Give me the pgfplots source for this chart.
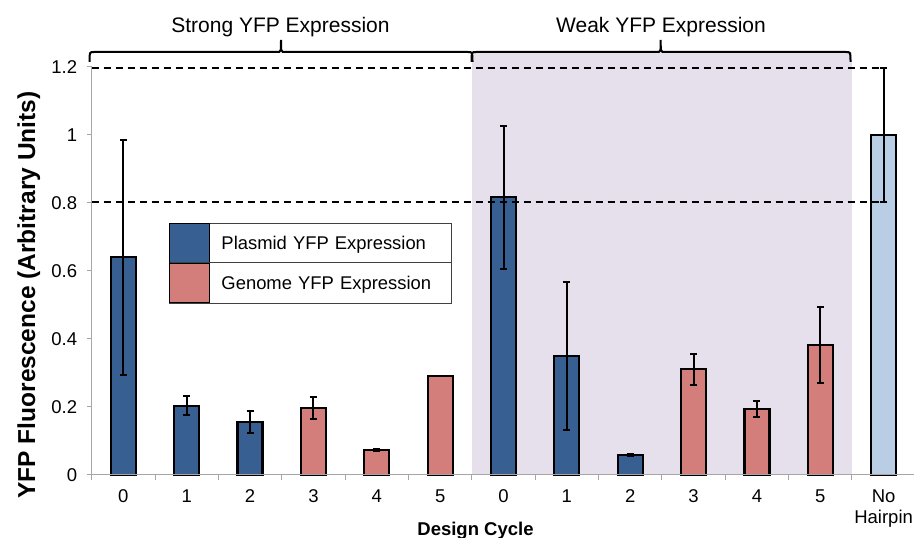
\documentclass[border=0pt]{standalone}
\usepackage{fontspec}
\setmainfont{Liberation Sans}
\usepackage{pgfplots}
\pgfplotsset{compat=1.18}
\definecolor{plasmid}{RGB}{55,95,145}
\definecolor{genome}{RGB}{211,126,123}
\definecolor{nohair}{RGB}{185,205,229}
\definecolor{shade}{RGB}{229,224,236}
\definecolor{axgray}{RGB}{166,166,166}
\begin{document}
\begin{tikzpicture}
\useasboundingbox (0,0) rectangle (914pt,538pt);
\begin{axis}[
  at={(91.7pt,63pt)}, anchor=south west,
  scale only axis, width=823.6pt, height=408pt,
  xmin=-0.5, xmax=12.5, ymin=0, ymax=1.2,
  clip=false, axis on top,
  axis lines*=left,
  axis line style={axgray, line width=1pt},
  tick style={axgray, line width=1pt},
  tick align=outside,
  major tick length=5pt,
  ytick={0,0.2,...,1.2},
  yticklabel style={xshift=-6pt},
  xtick={-0.5,0.5,...,12.5},
  xticklabels={},
  extra x ticks={0,1,...,12},
  extra x tick labels={0,1,2,3,4,5,0,1,2,3,4,5,{No\\Hairpin}},
  extra x tick style={major tick length=0pt, xticklabel style={align=center, yshift=-11pt}},
  /pgf/number format/assume math mode=true,
  tick label style={font=\fontsize{18.5}{21.5}\selectfont, black},
  xlabel={Design Cycle},
  xlabel style={at={(axis description cs:0.466,-0.1495)}, anchor=base, font=\fontsize{18.5}{22}\selectfont\bfseries},
  ylabel={YFP Fluorescence (Arbitrary Units)},
  ylabel style={at={(axis description cs:-0.0688,0.441)}, anchor=base, font=\fontsize{24.5}{28}\selectfont\bfseries},
  legend style={at={(axis cs:0.72,0.742)}, anchor=north west, draw=black!75, line width=1pt,
    inner sep=0pt, fill=white, font=\fontsize{18.4}{22}\selectfont,
    nodes={text width=219pt, inner xsep=11pt, inner ysep=0pt, align=left}, row sep=0pt},
]
% shaded weak region
\addplot[fill=shade, draw=none, forget plot] coordinates {(5.5,0) (5.5,1.244) (11.5,1.244) (11.5,0)} -- cycle;
% plasmid
\addplot[ybar, bar width=25pt, bar shift=0pt, fill=plasmid, draw=black, line width=2.2pt,
  legend image code/.code={\draw[fill=plasmid, draw=black, line width=1pt] (0pt,-19.5pt) rectangle (40pt,19.5pt);
     \draw[overlay, black!75, line width=1pt] (0pt,-19.5pt) -- (281pt,-19.5pt);},
  error bars/.cd, y dir=both, y explicit,
  error bar style={line width=2pt, black},
  error mark options={rotate=90, mark size=3.5pt, line width=2pt, black}]
  coordinates {(0,0.640) +- (0,0.345) (1,0.204) +- (0,0.028) (2,0.155) +- (0,0.032)
               (6,0.817) +- (0,0.210) (7,0.350) +- (0,0.218) (8,0.059) +- (0,0.004)};
\addlegendentry{Plasmid YFP Expression}
% genome
\addplot[ybar, bar width=25pt, bar shift=0pt, fill=genome, draw=black, line width=2.2pt,
  legend image code/.code={\draw[fill=genome, draw=black, line width=1pt] (0pt,-19.5pt) rectangle (40pt,19.5pt);},
  error bars/.cd, y dir=both, y explicit,
  error bar style={line width=2pt, black},
  error mark options={rotate=90, mark size=3.5pt, line width=2pt, black}]
  coordinates {(3,0.196) +- (0,0.032) (4,0.0735) +- (0,0.003)
               (9,0.311) +- (0,0.045) (10,0.194) +- (0,0.023) (11,0.382) +- (0,0.112)};
\addlegendentry{Genome YFP Expression}
\addplot[ybar, bar width=25pt, bar shift=0pt, fill=genome, draw=black, line width=2.2pt, forget plot]
  coordinates {(5,0.291)};
% no hairpin
\addplot[ybar, bar width=25pt, bar shift=0pt, fill=nohair, draw=black, line width=2.2pt, forget plot,
  error bars/.cd, y dir=both, y explicit,
  error bar style={line width=2pt, black},
  error mark options={rotate=90, mark size=3.5pt, line width=2pt, black}]
  coordinates {(12,1.0) +- (0,0.196)};
% dashed reference lines
\addplot[black, line width=2.2pt, dash pattern=on 7pt off 5pt, forget plot] coordinates {(-0.5,1.196) (12,1.196)};
\addplot[black, line width=2.2pt, dash pattern=on 7pt off 5pt, forget plot] coordinates {(-0.5,0.804) (12,0.804)};
\end{axis}
\begin{scope}[x=1pt, y=-1pt, shift={(0pt,538pt)}]
  \draw[black, line width=2pt] (89.5,62) .. controls (89.5,52) .. (94,52) -- (277,52)
     .. controls (281,52) .. (281,40) .. controls (281,52) .. (285,52) -- (468,52) .. controls (472.5,52) .. (472.5,62);
  \draw[black, line width=2pt] (471.5,62) .. controls (471.5,52) .. (476,52) -- (656.7,52)
     .. controls (660.7,52) .. (660.7,40) .. controls (660.7,52) .. (664.7,52) -- (846,52) .. controls (850.5,52) .. (850.5,62);
  \node[anchor=base, font=\fontsize{21}{25}\selectfont, inner sep=0pt] at (280.5,32.3) {Strong YFP Expression};
  \node[anchor=base, font=\fontsize{21}{25}\selectfont, inner sep=0pt] at (661,32.3) {Weak YFP Expression};
\end{scope}
\end{tikzpicture}
\end{document}
